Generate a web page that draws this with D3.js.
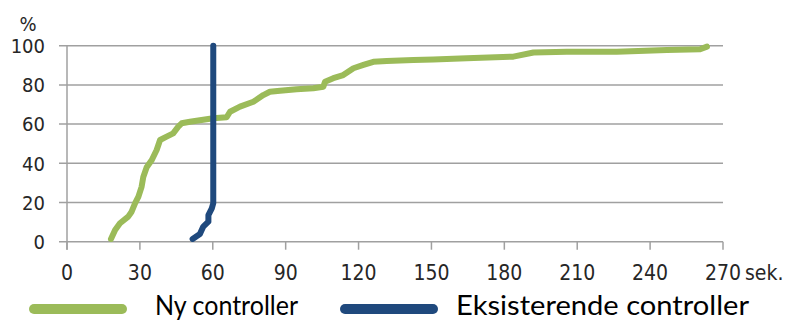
<!DOCTYPE html>
<html><head><meta charset="utf-8">
<script src="https://cdn.jsdelivr.net/npm/d3@7"></script>
<style>body{margin:0;background:#fff}svg{display:block}</style>
</head><body>
<svg id="c" width="796" height="321"></svg>
<script>
const xTicks = [0,30,60,90,120,150,180,210,240,270];
const yTicks = [0,20,40,60,80,100];
const nyX = [18.1,19.8,21.8,25.2,26.6,28,29.4,30.7,31.4,32.8,34.9,36.9,38.3,41,43.7,45.8,47.2,50.6,54.7,60.2,65.7,67.1,71.2,76.7,80.8,83.5,87.7,94.5,101.4,105.5,106.2,109.6,113.7,117.9,122,126.1,131.6,142.6,150.8,164.5,183.7,192,205.7,226.3,246.9,260.6,263.4];
const nyY = [1.4,6,9.4,12.8,15.3,19.6,23,28,33,38,41.7,46.8,51.9,53.6,55.3,58.7,60.4,61.2,62,63,63.5,66.3,68.9,71.4,74.8,76.5,77,77.8,78.3,79.1,81.6,83.4,85,88.5,90.2,91.8,92.2,92.7,92.9,93.6,94.4,96.5,96.9,96.9,97.8,98.2,99.5];
const eksX = [51.7,54.7,56.1,58.2,58.2,59.6,60.2,60.2];
const eksY = [1.4,3.9,7.7,10.2,13.6,17,19.6,100];
const seriesNames = ["Ny controller","Eksisterende controller"];
const colors = ["#9bbb59","#1f497d"];

const svg = d3.select("#c");
const x = d3.scaleLinear().domain([0,270]).range([67,723]);
const y = d3.scaleLinear().domain([0,100]).range([241.7,45.7]);
const tickFont = "'DejaVu Sans Condensed','DejaVu Sans',sans-serif";
const grid = "#a0a0a0";

svg.append("g").selectAll("line").data(yTicks).join("line")
  .attr("x1",59).attr("x2",723).attr("y1",d=>y(d)).attr("y2",d=>y(d))
  .attr("stroke",grid).attr("stroke-width",1.5);
svg.append("line").attr("x1",x(0)).attr("x2",x(0)).attr("y1",y(100)).attr("y2",y(0)+8)
  .attr("stroke",grid).attr("stroke-width",1.5);
svg.append("g").selectAll("line").data(xTicks).join("line")
  .attr("x1",d=>x(d)).attr("x2",d=>x(d)).attr("y1",y(0)).attr("y2",y(0)+8)
  .attr("stroke",grid).attr("stroke-width",1.5);
svg.append("g").selectAll("text").data(yTicks).join("text")
  .attr("x",45).attr("y",d=>y(d)).attr("dy","0.36em").attr("text-anchor","end")
  .attr("font-family",tickFont).attr("font-size",20).attr("fill","#262626").text(d=>d);
svg.append("text").attr("x",28).attr("y",31).attr("text-anchor","middle")
  .attr("font-family",tickFont).attr("font-size",20).attr("fill","#262626").text("%");
svg.append("g").selectAll("text").data(xTicks).join("text")
  .attr("x",d=>x(d)).attr("y",280).attr("text-anchor","middle")
  .attr("font-family",tickFont).attr("font-size",21).attr("fill","#262626").text(d=>d);
svg.append("text").attr("x",745).attr("y",280)
  .attr("font-family",tickFont).attr("font-size",21).attr("fill","#262626").text("sek.");

const line = d3.line().x(d=>x(d[0])).y(d=>y(d[1]));
svg.append("path").datum(nyX.map((v,i)=>[v,nyY[i]])).attr("d",line)
  .attr("fill","none").attr("stroke",colors[0]).attr("stroke-width",6)
  .attr("stroke-linejoin","round").attr("stroke-linecap","round");
svg.append("path").datum(eksX.map((v,i)=>[v,eksY[i]])).attr("d",line)
  .attr("fill","none").attr("stroke",colors[1]).attr("stroke-width",6)
  .attr("stroke-linejoin","round").attr("stroke-linecap","round");

const legX = [34,345], txtX=[155,456], txtW=[143,293];
seriesNames.forEach((n,i)=>{
  svg.append("line").attr("x1",legX[i]).attr("x2",legX[i]+88).attr("y1",309).attr("y2",309)
    .attr("stroke",colors[i]).attr("stroke-width",10).attr("stroke-linecap","round");
  svg.append("text").attr("x",txtX[i]).attr("y",315)
    .attr("font-family","Lato, 'Open Sans', sans-serif").attr("font-size",27)
    .attr("textLength",txtW[i]).attr("lengthAdjust","spacingAndGlyphs")
    .attr("fill","#000").text(n);
});
</script>
</body></html>
